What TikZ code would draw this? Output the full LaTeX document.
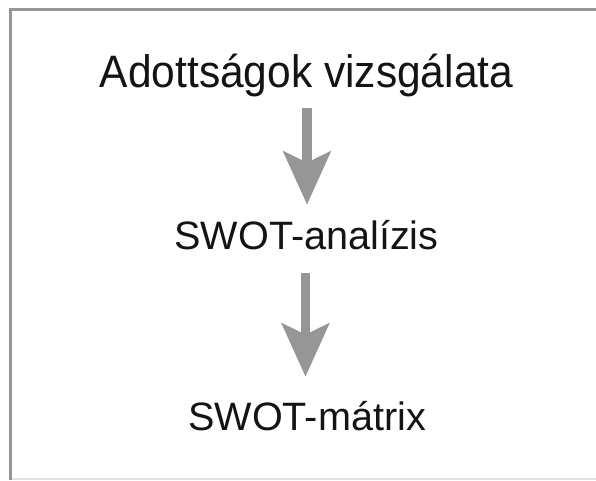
\documentclass[tikz,border=0pt]{standalone}
\usepackage{fontspec}
\setmainfont{Liberation Sans}
\usetikzlibrary{arrows.meta}
\definecolor{framegray}{RGB}{150,150,150}
\definecolor{arrowgray}{RGB}{150,150,150}
\definecolor{faintgray}{RGB}{225,225,225}
\definecolor{textblack}{RGB}{20,20,20}
\tikzset{
  label1/.style={anchor=base, inner sep=0pt, text=textblack, font=\fontsize{42.5}{48}\selectfont},
  label2/.style={anchor=base, inner sep=0pt, text=textblack, font=\fontsize{39.6}{46}\selectfont},
  flowarrow/.style={draw=arrowgray, line width=9.5pt,
    -{Stealth[length=53pt, width=47pt, inset=11pt, fill=arrowgray]}},
  frameline/.style={draw=framegray, line width=3pt}
}
\begin{document}
\begin{tikzpicture}[x=1pt,y=1pt]
\useasboundingbox (0,0) rectangle (596,480);
\fill[white] (0,0) rectangle (596,480);
% frame (cropped on right and bottom)
\draw[faintgray, line width=1.5pt] (10,1) -- (596,1);
\draw[frameline] (10,0) -- (10,470) -- (596,470);
% labels
\node[label1] (a) at (306.5,392) {\scalebox{1}[1.07]{Adottságok vizsgálata}};
\node[label2] (b) at (306.5,231) {SWOT-analízis};
\node[label2] (c) at (307,50) {SWOT-mátrix};
% arrows
\draw[flowarrow, shorten <=10pt, shorten >=15pt] ([xshift=0.5pt]a.south) -- ([xshift=0.5pt]b.north);
\draw[flowarrow, shorten <=23pt, shorten >=24pt] ([xshift=-1pt]b.south) -- ([xshift=-1.5pt]c.north);
\end{tikzpicture}
\end{document}
